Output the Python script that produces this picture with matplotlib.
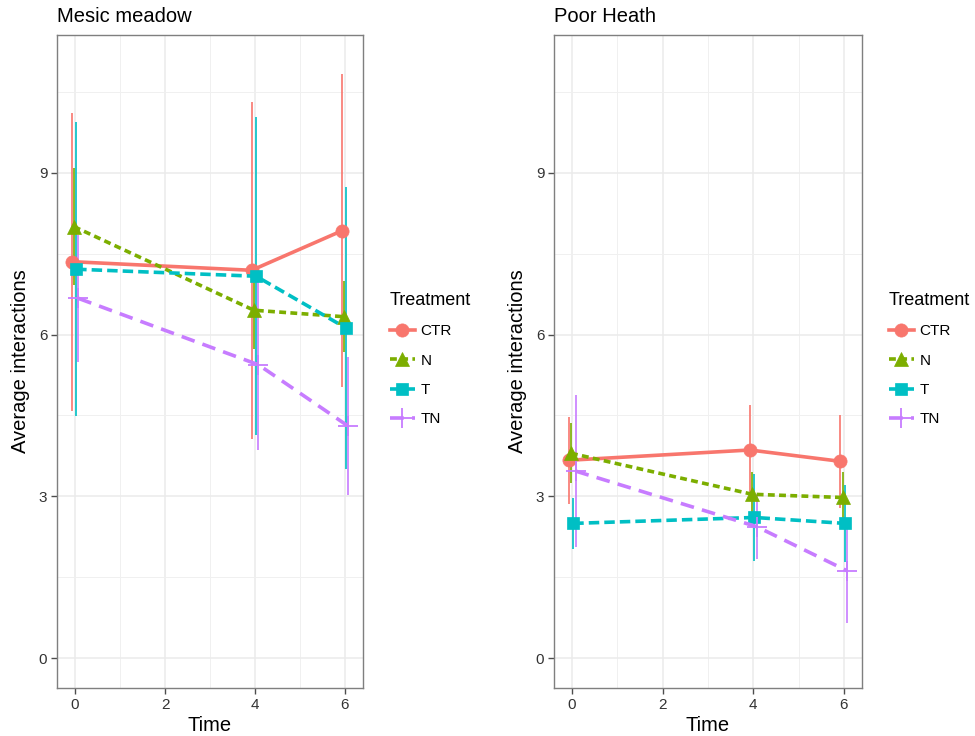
import matplotlib
matplotlib.use("Agg")
import matplotlib.pyplot as plt
from matplotlib.lines import Line2D

plt.rcParams['font.family'] = ['Liberation Sans', 'DejaVu Sans']

# data
times = [0, 4, 6]
treatments = ["CTR", "N", "T", "TN"]
panels = ["Mesic meadow", "Poor Heath"]

meadow_mean = {
    "CTR": [7.35, 7.19, 7.92],
    "N": [8.00, 6.45, 6.33],
    "T": [7.21, 7.08, 6.12],
    "TN": [6.67, 5.44, 4.30],
}
meadow_err = {
    "CTR": [2.76, 3.12, 2.90],
    "N": [1.08, 0.72, 0.66],
    "T": [2.72, 2.95, 2.61],
    "TN": [1.18, 1.58, 1.28],
}
heath_mean = {
    "CTR": [3.67, 3.86, 3.65],
    "N": [3.80, 3.04, 2.98],
    "T": [2.50, 2.61, 2.50],
    "TN": [3.47, 2.44, 1.62],
}
heath_err = {
    "CTR": [0.81, 0.83, 0.86],
    "N": [0.56, 0.42, 0.48],
    "T": [0.47, 0.80, 0.71],
    "TN": [1.41, 0.60, 0.96],
}

colors = {"CTR": "#F8766D", "N": "#7CAE00", "T": "#00BFC4", "TN": "#C77CFF"}
markers = {"CTR": "o", "N": "^", "T": "s", "TN": "+"}
msizes = {"CTR": 9.5, "N": 9.5, "T": 8.5, "TN": 15}
dashes = {"CTR": None, "N": (1.9, 1.2), "T": (2.9, 1.4), "TN": (3.8, 2.3)}
dodge = {"CTR": -0.075, "N": -0.025, "T": 0.025, "TN": 0.075}

fig = plt.figure(figsize=(9.75, 7.36), dpi=100)
axes = [fig.add_axes([57 / 975, 48 / 736, 306 / 975, 653 / 736]),
        fig.add_axes([554 / 975, 48 / 736, 308 / 975, 653 / 736])]

for ax, title, means, errs in zip(axes, panels, [meadow_mean, heath_mean], [meadow_err, heath_err]):
    for t in treatments:
        xs = [x + dodge[t] for x in times]
        ax.vlines(xs, [m - e for m, e in zip(means[t], errs[t])],
                  [m + e for m, e in zip(means[t], errs[t])],
                  color=colors[t], lw=1.2, zorder=3)
        ln, = ax.plot(xs, means[t], color=colors[t], lw=2.6, zorder=4,
                      marker=markers[t], markersize=msizes[t],
                      markeredgewidth=1.3 if t == "TN" else 0.5)
        if dashes[t] is not None:
            ln.set_dashes(dashes[t])

    ax.set_xlim(-0.4, 6.4)
    ax.set_ylim(-0.55, 11.55)
    ax.set_xticks([0, 2, 4, 6])
    ax.set_xticks([1, 3, 5], minor=True)
    ax.set_yticks([0, 3, 6, 9])
    ax.set_yticks([1.5, 4.5, 7.5, 10.5], minor=True)
    ax.grid(which="major", color="#EBEBEB", lw=1.1, zorder=0)
    ax.grid(which="minor", color="#F0F0F0", lw=0.7, zorder=0)
    ax.set_axisbelow(True)
    for s in ax.spines.values():
        s.set_color("#7F7F7F")
        s.set_linewidth(1.0)
    ax.tick_params(which="major", length=4, width=1.0, color="#4D4D4D",
                   labelsize=11, labelcolor="#333333", pad=3)
    ax.tick_params(which="minor", length=0)
    ax.set_xlabel("Time", fontsize=14.5, labelpad=3)
    ax.set_ylabel("Average interactions", fontsize=14.5, labelpad=6)
    ax.set_title(title, loc="left", fontsize=14.5, pad=9)

    handles = [Line2D([], [], color=colors[t], lw=2.6, marker=markers[t],
                      markersize=msizes[t], markeredgewidth=1.3 if t == "TN" else 0.5,
                      dashes=dashes[t] if dashes[t] else (None, None))
               for t in treatments]
    pos = ax.get_position()
    leg = fig.legend(handles, treatments, title="Treatment", frameon=False,
                     loc="upper left", bbox_to_anchor=(pos.x1 + 21 / 975, 1 - 286 / 736),
                     fontsize=11, title_fontsize=13, handlelength=1.6,
                     handletextpad=0.4, labelspacing=1.0, borderaxespad=0)
    leg._legend_box.align = "left"

fig.savefig("out.png", dpi=100)
